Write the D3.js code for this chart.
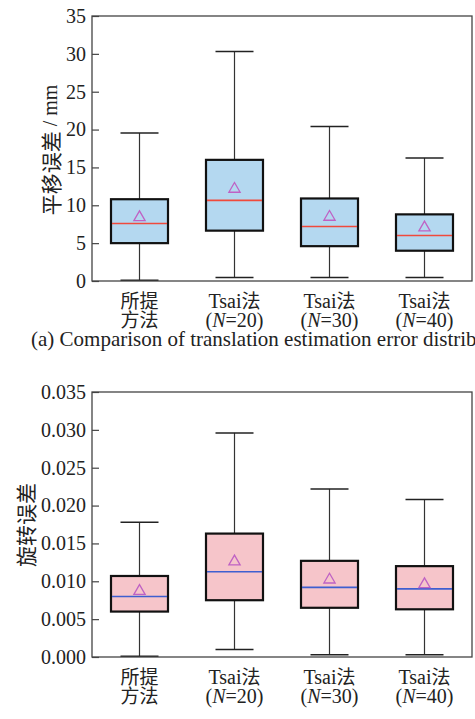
<!DOCTYPE html>
<html>
<head>
<meta charset="utf-8">
<script src="https://cdn.jsdelivr.net/npm/d3@7"></script>
<style>
  html, body { margin: 0; padding: 0; background: #fff; overflow: hidden; }
  svg { display: block; }
</style>
</head>
<body>
<div id="chart"></div>
<script>
// Category labels (two lines each)
var catLine1 = ["所提", "Tsai法", "Tsai法", "Tsai法"];
var catLine2 = ["方法", "20", "30", "40"]; // N values for Tsai

// Translation error (mm)
var transMin = [0.1, 0.45, 0.45, 0.45];
var transQ1 = [5.0, 6.65, 4.6, 4.0];
var transMedian = [7.6, 10.65, 7.2, 6.0];
var transQ3 = [10.8, 16.0, 10.9, 8.8];
var transMax = [19.55, 30.3, 20.4, 16.25];
var transMean = [8.4, 12.15, 8.45, 7.05];
var transTicks = [0, 5, 10, 15, 20, 25, 30, 35];

// Rotation error
var rotMin = [0.0001, 0.001, 0.0003, 0.0003];
var rotQ1 = [0.0060, 0.0075, 0.0065, 0.0063];
var rotMedian = [0.0080, 0.01125, 0.0092, 0.0090];
var rotQ3 = [0.0107, 0.0163, 0.0127, 0.0120];
var rotMax = [0.0178, 0.0296, 0.0222, 0.0208];
var rotMean = [0.0087, 0.0126, 0.0102, 0.0096];
var rotTicks = [0, 0.005, 0.010, 0.015, 0.020, 0.025, 0.030, 0.035];

var width = 475, height = 719;
var serif = '"Liberation Serif", "Times New Roman", serif';
var cjk = '"Noto Sans CJK SC", sans-serif';

var svg = d3.select("#chart").append("svg")
  .attr("width", width)
  .attr("height", height);

// Draw one box-plot panel
function drawPanel(p) {
  var x = d3.scaleBand()
    .domain(d3.range(p.min.length))
    .range([92, 472]);

  var y = d3.scaleLinear()
    .domain([p.ticks[0], p.ticks[p.ticks.length - 1]])
    .range([p.bottom, p.top]);

  var g = svg.append("g");

  var rows = d3.range(p.min.length).map(function (i) {
    return { i: i, min: p.min[i], q1: p.q1[i], med: p.median[i], q3: p.q3[i], max: p.max[i], mean: p.mean[i] };
  });

  var bw = x.bandwidth() * 0.6;
  var cw = x.bandwidth() * 0.4;
  var cx = function (d) { return x(d.i) + x.bandwidth() / 2; };

  // y axis (ticks inward)
  g.append("g")
    .attr("transform", "translate(92,0)")
    .call(d3.axisLeft(y).tickValues(p.ticks).tickFormat(p.format).tickSizeInner(-7).tickSizeOuter(0).tickPadding(6))
    .call(function (a) {
      a.select(".domain").remove();
      a.attr("font-family", serif);
      a.selectAll("line").attr("stroke", "#444").attr("stroke-width", 1.2);
      a.selectAll("text").attr("font-size", 20).attr("fill", "#222").attr("font-family", serif);
    });

  var box = g.selectAll(".box").data(rows).enter().append("g").attr("class", "box");

  // whisker stem
  box.append("line")
    .attr("x1", cx).attr("x2", cx)
    .attr("y1", function (d) { return y(d.max); })
    .attr("y2", function (d) { return y(d.min); })
    .attr("stroke", "#333").attr("stroke-width", 1.2);

  // whisker caps
  ["max", "min"].forEach(function (k) {
    box.append("line")
      .attr("x1", function (d) { return cx(d) - cw / 2; })
      .attr("x2", function (d) { return cx(d) + cw / 2; })
      .attr("y1", function (d) { return y(d[k]); })
      .attr("y2", function (d) { return y(d[k]); })
      .attr("stroke", "#222").attr("stroke-width", 1.5);
  });

  box.append("rect")
    .attr("x", function (d) { return cx(d) - bw / 2; })
    .attr("width", bw)
    .attr("y", function (d) { return y(d.q3); })
    .attr("height", function (d) { return y(d.q1) - y(d.q3); })
    .attr("fill", p.fill)
    .attr("stroke", "#111")
    .attr("stroke-width", 2.2);

  box.append("line")
    .attr("x1", function (d) { return cx(d) - bw / 2 + 1; })
    .attr("x2", function (d) { return cx(d) + bw / 2 - 1; })
    .attr("y1", function (d) { return y(d.med); })
    .attr("y2", function (d) { return y(d.med); })
    .attr("stroke", p.medColor).attr("stroke-width", 1.6);

  // mean marker
  box.append("path")
    .attr("d", d3.symbol(d3.symbolTriangle, 55))
    .attr("transform", function (d) { return "translate(" + cx(d) + "," + y(d.mean) + ")"; })
    .attr("fill", "none")
    .attr("stroke", "#bf62c4")
    .attr("stroke-width", 1.3);

  // frame
  g.append("rect")
    .attr("x", 92).attr("y", p.top)
    .attr("width", 380).attr("height", p.bottom - p.top)
    .attr("fill", "none")
    .attr("stroke", "#444")
    .attr("stroke-width", 1.3);

  // x labels: one text per category, two lines as tspans
  g.selectAll(".xlab").data(rows).enter().append("text")
    .attr("class", "xlab")
    .attr("y", p.bottom + 27)
    .attr("text-anchor", "middle")
    .attr("font-size", 19)
    .attr("fill", "#222")
    .each(function (d) {
      var t = d3.select(this);
      var l1 = t.append("tspan").attr("x", cx(d)).attr("y", p.bottom + 27);
      var l2 = t.append("tspan").attr("x", cx(d)).attr("y", p.bottom + 46);
      if (d.i === 0) {
        l1.attr("font-family", cjk).text(catLine1[d.i]);
        l2.attr("font-family", cjk).text(catLine2[d.i]);
      } else {
        l1.append("tspan").attr("font-family", serif).attr("font-size", 20).text("Tsai");
        l1.append("tspan").attr("font-family", cjk).text("法");
        l2.attr("font-family", serif).attr("font-size", 20);
        l2.append("tspan").text("(");
        l2.append("tspan").attr("font-style", "italic").text("N");
        l2.append("tspan").text("=" + catLine2[d.i] + ")");
      }
    });

  // y label
  var yl = g.append("text")
    .attr("transform", "translate(" + p.ylabelX + "," + p.ylabelY + ") rotate(-90)")
    .attr("text-anchor", "middle")
    .attr("dominant-baseline", "central")
    .attr("font-size", 21)
    .attr("fill", "#222");
  yl.append("tspan").attr("font-family", cjk).text(p.ylabel);
  if (p.yunit) yl.append("tspan").attr("font-family", serif).attr("font-size", 20).text(p.yunit);
}

drawPanel({
  min: transMin, q1: transQ1, median: transMedian, q3: transQ3, max: transMax, mean: transMean,
  ticks: transTicks, format: d3.format("d"),
  top: 16, bottom: 281,
  fill: "#b4d8f0", medColor: "#f04a3c",
  ylabel: "平移误差", yunit: " / mm", ylabelX: 50, ylabelY: 150
});

drawPanel({
  min: rotMin, q1: rotQ1, median: rotMedian, q3: rotQ3, max: rotMax, mean: rotMean,
  ticks: rotTicks, format: d3.format(".3f"),
  top: 392, bottom: 657,
  fill: "#f6c5ca", medColor: "#3e5fd0",
  ylabel: "旋转误差", yunit: null, ylabelX: 25, ylabelY: 525
});

// caption of panel (a), runs off the right edge like the source
svg.append("text")
  .attr("x", 31)
  .attr("y", 346)
  .attr("font-family", serif)
  .attr("font-size", 21)
  .attr("fill", "#222")
  .text("(a) Comparison of translation estimation error distribution");
</script>
</body>
</html>
